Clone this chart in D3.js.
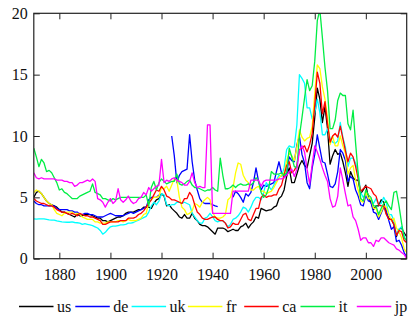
<!DOCTYPE html>
<html>
<head>
<meta charset="utf-8">
<script src="https://cdn.jsdelivr.net/npm/d3@7"></script>
</head>
<body style="margin:0; background:#fff">
<svg id="chart" width="419" height="327"></svg>
<script>
// Long-term interest rates (%), yearly 1870–2016; null marks a break in the series.
const startYear = 1870;
const endYear = 2016;

const us = [
  5.0, 5.4, 5.5, 5.3, 5.0, 4.7, 4.5, 4.4, 4.3, 4.2,
  4.0, 3.8, 3.8, 3.7, 3.6, 3.5, 3.4, 3.6, 3.5, 3.5,
  3.6, 3.6, 3.6, 3.5, 3.4, 3.3, 3.3, 3.1, 3.1, 3.0,
  3.1, 3.2, 3.3, 3.4, 3.4, 3.5, 3.7, 3.8, 3.8, 3.8,
  3.9, 4.0, 4.0, 4.2, 4.2, 4.2, 4.1, 4.5, 4.8, 4.9,
  5.3, 5.1, 4.3, 4.4, 4.1, 3.9, 3.7, 3.4, 3.3, 3.6,
  3.3, 3.3, 3.7, 3.3, 3.1, 2.8, 2.7, 2.7, 2.6, 2.4,
  2.2, 2.0, 2.5, 2.5, 2.5, 2.4, 2.2, 2.3, 2.4, 2.3,
  2.3, 2.6, 2.7, 2.9, 2.5, 2.8, 3.0, 3.4, 3.3, 4.1,
  4.0, 3.9, 3.95, 4.0, 4.2, 4.3, 4.9, 5.1, 5.6, 6.7,
  7.4, 6.2, 6.2, 6.9, 7.6, 8.0, 7.6, 7.4, 8.4, 9.4,
  11.5, 13.9, 13.0, 11.1, 12.4, 10.6, 7.7, 8.4, 8.9, 8.5,
  8.6, 7.9, 7.0, 5.9, 7.1, 6.6, 6.4, 6.4, 5.3, 5.6,
  6.0, 5.0, 4.6, 4.0, 4.3, 4.3, 4.8, 4.6, 3.7, 3.3,
  3.2, 2.8, 1.8, 2.4, 2.5, 2.1, 1.8
];

const de = [
  4.7, 4.5, 4.4, 4.4, 4.3, 4.3, 4.3, 4.3, 4.3, 4.1,
  4.0, 4.0, 4.0, 4.0, 3.9, 3.9, 3.8, 3.8, 3.6, 3.6,
  3.7, 3.7, 3.6, 3.6, 3.5, 3.4, 3.4, 3.4, 3.5, 3.6,
  3.7, 3.6, 3.5, 3.5, 3.5, 3.5, 3.6, 3.7, 3.8, 3.7,
  3.8, 3.9, 4.0, 4.1, 4.2, 4.8, 5.0, 5.0, 5.0, 5.2,
  null, null, null, null, 10.0, 8.4, 6.2, 6.8, 7.1, 7.2,
  7.3, 10.1, 7.9, 6.4, 5.6, 4.9, 4.6, 4.5, 4.5, 4.5,
  4.4, 4.3, 4.25, null, null, null, null, null, 5.0, 5.5,
  5.3, 5.0, 4.6, 5.3, 5.1, 5.4, 6.2, 7.4, 6.3, 5.6,
  6.0, 5.9, 6.0, 6.1, 6.2, 7.1, 7.9, 7.0, 6.6, 6.9,
  8.3, 8.0, 7.9, 9.3, 10.0, 8.5, 7.8, 6.2, 5.7, 7.4,
  8.5, 10.1, 9.0, 7.9, 7.8, 6.9, 5.9, 5.8, 6.1, 7.1,
  8.9, 8.6, 8.0, 6.3, 6.7, 6.5, 5.6, 5.1, 4.4, 4.3,
  5.2, 4.7, 4.6, 3.8, 3.7, 3.2, 3.7, 4.2, 4.0, 3.1,
  2.4, 2.6, 1.4, 1.5, 1.1, 0.5, 0.1
];

const uk = [
  3.24, 3.23, 3.24, 3.24, 3.24, 3.2, 3.16, 3.14, 3.15, 3.08,
  3.05, 3.0, 2.98, 2.97, 2.97, 3.0, 2.95, 2.93, 2.9, 2.8,
  2.85, 2.8, 2.75, 2.7, 2.6, 2.5, 2.3, 2.0, 2.15, 2.4,
  2.6, 2.65, 2.65, 2.7, 2.75, 2.75, 2.8, 2.9, 2.9, 2.95,
  3.05, 3.15, 3.25, 3.35, 3.45, 3.8, 4.3, 4.6, 4.4, 4.7,
  5.3, 5.2, 4.4, 4.3, 4.4, 4.4, 4.6, 4.6, 4.5, 4.6,
  4.5, 4.4, 3.7, 3.4, 3.1, 2.9, 2.9, 3.3, 3.4, 3.7,
  3.4, 3.1, 3.0, 3.1, 3.1, 2.9, 2.6, 2.8, 3.2, 3.3,
  3.5, 3.8, 4.2, 4.1, 3.8, 4.2, 4.7, 5.0, 5.0, 4.8,
  5.4, 6.2, 5.9, 5.6, 6.0, 6.4, 6.8, 6.7, 7.4, 8.9,
  9.2, 9.1, 9.1, 10.9, 15.0, 14.7, 14.3, 12.3, 12.3, 11.4,
  11.9, 13.0, 11.9, 10.1, 10.1, 10.6, 9.8, 9.5, 9.4, 9.6,
  11.1, 9.9, 9.1, 7.5, 8.2, 8.2, 7.8, 7.0, 5.4, 5.0,
  5.3, 4.9, 4.9, 4.5, 4.9, 4.4, 4.5, 5.0, 4.6, 3.6,
  3.6, 3.1, 1.9, 2.4, 2.6, 1.9, 1.3
];

const fr = [
  5.4, 5.6, 5.5, 5.3, 5.0, 4.7, 4.5, 4.4, 4.0, 3.7,
  3.6, 3.5, 3.7, 3.8, 3.8, 3.8, 3.6, 3.7, 3.6, 3.4,
  3.3, 3.2, 3.2, 3.2, 3.0, 3.0, 2.9, 2.9, 2.9, 3.0,
  3.0, 3.0, 3.0, 3.1, 3.1, 3.0, 3.1, 3.2, 3.1, 3.1,
  3.1, 3.2, 3.3, 3.6, 3.7, 4.6, 4.8, 5.0, 5.0, 5.1,
  5.8, 5.7, 5.9, 5.5, 6.0, 6.5, 6.4, 5.0, 4.2, 4.0,
  3.6, 3.7, 3.9, 4.5, 4.4, 4.2, 4.6, 4.8, 5.0, 4.8,
  3.8, 3.4, 3.3, 3.3, 3.4, 3.6, 4.8, 5.0, 5.8, 7.0,
  7.8, 7.7, 6.8, 6.4, 6.2, 5.6, 5.6, 5.8, 5.9, 5.5,
  5.5, 5.3, 5.4, 5.5, 5.8, 6.2, 6.6, 6.8, 7.0, 8.0,
  8.6, 8.4, 8.0, 9.1, 10.5, 9.9, 9.6, 9.8, 9.9, 10.8,
  13.5, 15.8, 15.5, 14.0, 13.0, 11.5, 9.3, 10.0, 9.2, 9.2,
  10.0, 9.2, 8.6, 6.9, 7.4, 7.6, 6.4, 5.6, 4.7, 4.6,
  5.4, 4.9, 4.9, 4.1, 4.1, 3.4, 3.8, 4.3, 4.2, 3.6,
  3.1, 3.3, 2.5, 2.2, 1.7, 0.8, 0.5
];

const ca = [
  4.9, 4.7, 4.6, 4.5, 4.5, 4.4, 4.3, 4.3, 4.2, 4.0,
  3.9, 3.8, 3.8, 3.7, 3.6, 3.7, 3.6, 3.5, 3.7, 3.6,
  3.5, 3.5, 3.4, 3.4, 3.3, 3.2, 3.1, 2.8, 2.8, 2.9,
  3.0, 3.0, 3.0, 3.0, 3.1, 3.1, 3.1, 3.3, 3.3, 3.3,
  3.4, 3.6, 3.7, 3.9, 4.2, 4.5, 4.8, 5.2, 5.6, 5.5,
  5.9, 5.6, 5.1, 5.0, 4.8, 4.8, 4.7, 4.6, 4.5, 4.9,
  4.9, 5.4, 5.1, 4.4, 3.8, 3.6, 3.3, 3.2, 3.2, 3.3,
  3.4, 3.4, 3.2, 3.1, 3.1, 2.9, 2.5, 2.6, 2.9, 2.8,
  2.8, 3.2, 3.6, 3.7, 3.2, 3.1, 3.6, 4.1, 4.1, 5.0,
  5.2, 5.0, 5.1, 5.1, 5.2, 5.2, 5.7, 6.0, 6.8, 7.6,
  7.9, 7.0, 7.2, 7.6, 8.9, 9.0, 9.2, 8.7, 9.3, 10.2,
  12.5, 15.2, 14.3, 11.8, 12.8, 11.0, 9.5, 10.0, 10.2, 9.9,
  10.8, 9.8, 8.8, 7.9, 8.6, 8.3, 7.5, 6.5, 5.5, 5.7,
  5.9, 5.8, 5.7, 5.3, 5.1, 4.4, 4.3, 4.3, 3.6, 3.2,
  3.2, 2.8, 1.9, 2.3, 2.2, 1.5, 1.3
];

const it = [
  9.0, 8.3, 7.5, 8.1, 7.8, 7.1, 7.2, 7.0, 6.6, 6.2,
  5.6, 5.7, 5.4, 5.3, 5.1, 4.9, 4.9, 4.9, 5.1, 5.2,
  5.3, 5.4, 5.5, 6.1, 5.4, 5.3, 5.2, 4.9, 4.9, 4.8,
  4.7, 4.9, 4.8, 4.9, 5.0, 5.0, 5.0, 5.0, 5.0, 5.0,
  5.0, 5.0, 5.0, 5.0, 5.2, 4.3, 5.8, 6.3, 5.6, 6.2,
  6.5, 6.3, 6.1, 6.2, 6.3, 6.3, 6.9, 6.1, 6.0, 6.1,
  6.3, 6.4, 6.0, 5.8, 5.8, 5.7, 5.6, 5.5, 5.6, 5.6,
  5.8, 5.6, 5.5, 8.2, 6.8, 5.7, 5.7, 5.8, 6.0, 5.8,
  6.0, 6.1, 6.0, 6.0, 6.1, 6.0, 6.2, 6.6, 6.3, 5.4,
  5.0, 5.2, 5.8, 7.1, 6.9, 6.9, 6.9, 7.0, 6.8, 7.0,
  9.0, 8.3, 7.5, 7.4, 10.0, 11.5, 13.1, 14.6, 13.7, 14.1,
  16.1, 19.4, 20.3, 18.0, 15.6, 13.7, 10.6, 10.6, 11.3, 12.9,
  13.5, 13.3, 13.3, 11.0, 10.5, 12.1, 9.4, 6.9, 4.9, 4.7,
  5.6, 5.2, 5.0, 4.3, 4.3, 3.6, 4.1, 4.5, 4.7, 4.3,
  4.0, 5.4, 5.5, 4.3, 2.9, 1.7, 1.5
];

const jp = [
  7.0, 6.6, 6.5, 6.6, 6.5, 6.5, 6.5, 6.5, 6.5, 6.4,
  6.4, 6.4, 6.3, 6.3, 6.2, 6.2, 5.9, 6.0, 6.2, 6.2,
  6.3, 6.4, 6.3, 6.5, 6.3, 4.9, 4.8, 4.6, 4.2, 4.6,
  4.9, 4.5, 4.7, 5.7, 4.8, 4.6, 4.8, 5.1, 4.7, 4.5,
  4.6, 4.9, 5.0, 5.4, 5.2, 5.8, 5.5, 5.7, 5.9, 6.0,
  8.1, 6.2, 6.4, 6.3, 6.5, 6.6, 6.4, 6.3, 6.2, 6.0,
  6.0, 6.3, 7.0, 6.2, 5.8, 5.9, 5.8, 5.8, 10.9, 10.9,
  3.7, 3.7, 3.7, 3.7, 3.7, 3.7, 3.7, 3.7, 5.5, 5.5,
  5.5, 5.5, 5.5, 5.5, 5.5, 6.4, 6.4, 6.4, 6.4, 5.9,
  6.3, 6.4, 6.4, 6.4, 6.4, 6.4, 6.5, 6.5, 6.6, 6.8,
  7.1, 7.3, 6.7, 7.3, 8.8, 9.2, 8.7, 7.3, 6.1, 7.7,
  9.2, 8.7, 8.1, 7.4, 6.8, 6.3, 4.9, 4.2, 4.3, 5.1,
  7.4, 6.4, 5.3, 4.3, 4.4, 3.4, 3.1, 2.4, 1.5, 1.7,
  1.7, 1.3, 1.3, 1.0, 1.5, 1.4, 1.7, 1.7, 1.5, 1.3,
  1.2, 1.1, 0.8, 0.7, 0.5, 0.35, 0.0
];

const seriesNames = ["us", "de", "uk", "fr", "ca", "it", "jp"];
const seriesValues = [us, de, uk, fr, ca, it, jp];
const seriesColors = ["#000000", "#0000ff", "#00ffff", "#ffff00", "#ff0000", "#00ee44", "#ff00ff"];

const xTicks = [1880, 1900, 1920, 1940, 1960, 1980, 2000];
const yTicks = [0, 5, 10, 15, 20];

const FONT = '"Liberation Serif"';

const svg = d3.select("#chart");
const plot = { left: 33.8, right: 406.7, top: 13.3, bottom: 258.7 };

const x = d3.scaleLinear().domain([startYear, endYear]).range([plot.left, plot.right]);
const y = d3.scaleLinear().domain([0, 20]).range([plot.bottom, plot.top]);

svg.append("defs").append("clipPath").attr("id", "plot-clip")
  .append("rect")
  .attr("x", plot.left).attr("y", plot.top)
  .attr("width", plot.right - plot.left).attr("height", plot.bottom - plot.top);

// Series lines
const line = d3.line()
  .defined(d => d.v !== null)
  .x(d => x(d.year))
  .y(d => y(d.v));

const lines = svg.append("g").attr("clip-path", "url(#plot-clip)");
seriesValues.forEach((vals, i) => {
  const pts = vals.map((v, k) => ({ year: startYear + k, v }));
  lines.append("path")
    .datum(pts)
    .attr("fill", "none")
    .attr("stroke", seriesColors[i])
    .attr("stroke-width", 1.3)
    .attr("stroke-linejoin", "round")
    .attr("d", line);
});

// Axes with inward ticks mirrored on all four sides
const tickLen = 6;
const axisStyle = g => {
  g.attr("font-family", null).attr("font-size", null);
  g.select(".domain").remove();
  g.selectAll(".tick line").attr("stroke", "#222").attr("stroke-width", 1);
  g.selectAll(".tick text")
    .style("font-family", FONT)
    .style("font-size", "16px")
    .attr("fill", "#111");
};

svg.append("g")
  .attr("transform", `translate(0,${plot.bottom})`)
  .call(d3.axisBottom(x).tickValues(xTicks).tickFormat(d3.format("d")).tickSizeInner(-tickLen).tickSizeOuter(0).tickPadding(10))
  .call(axisStyle);

svg.append("g")
  .attr("transform", `translate(0,${plot.top})`)
  .call(d3.axisTop(x).tickValues(xTicks).tickFormat("").tickSizeInner(-tickLen).tickSizeOuter(0))
  .call(axisStyle);

svg.append("g")
  .attr("transform", `translate(${plot.left},0)`)
  .call(d3.axisLeft(y).tickValues(yTicks).tickFormat(d3.format("d")).tickSizeInner(-tickLen).tickSizeOuter(0).tickPadding(6))
  .call(axisStyle);

svg.append("g")
  .attr("transform", `translate(${plot.right},0)`)
  .call(d3.axisRight(y).tickValues(yTicks).tickFormat("").tickSizeInner(-tickLen).tickSizeOuter(0))
  .call(axisStyle);

// Frame
svg.append("rect")
  .attr("x", plot.left).attr("y", plot.top)
  .attr("width", plot.right - plot.left).attr("height", plot.bottom - plot.top)
  .attr("fill", "none").attr("stroke", "#222").attr("stroke-width", 1.2);

// Legend row
const legendY = 306.5;
const legendX0 = 19;
const legendStep = 56.3;
const legend = svg.append("g");
seriesNames.forEach((name, i) => {
  const gx = legendX0 + i * legendStep;
  legend.append("line")
    .attr("x1", gx).attr("x2", gx + 34.5)
    .attr("y1", legendY).attr("y2", legendY)
    .attr("stroke", seriesColors[i]).attr("stroke-width", 1.3);
  legend.append("text")
    .attr("x", gx + 38).attr("y", legendY + 5)
    .style("font-family", FONT)
    .style("font-size", "16px")
    .attr("fill", "#111")
    .text(name);
});
</script>
</body>
</html>
